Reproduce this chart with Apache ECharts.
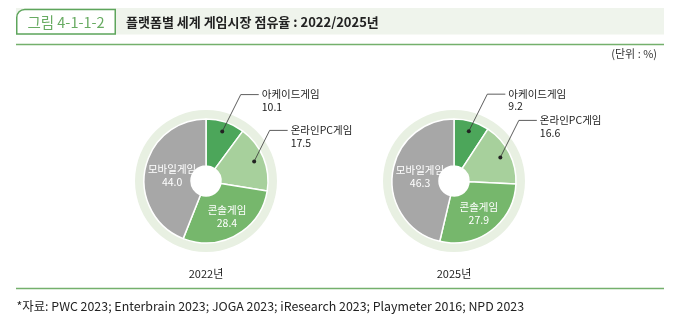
<!DOCTYPE html>
<html><head><meta charset="utf-8">
<script src="https://cdn.jsdelivr.net/npm/echarts@6/dist/echarts.min.js"></script>
<style>html,body{margin:0;padding:0;background:#fff}#c{width:677px;height:324px}</style>
</head><body><div id="c"></div>
<script>
// ---- data ----
const categories = ['아케이드게임', '온라인PC게임', '콘솔게임', '모바일게임'];
const years = ['2022년', '2025년'];
const values2022 = [10.1, 17.5, 28.4, 44.0];
const values2025 = [9.2, 16.6, 27.9, 46.3];
const figureNo = '그림 4-1-1-2';
const titleText = '플랫폼별 세계 게임시장 점유율 : 2022/2025년';
const unitText = '(단위 : %)';
const sourceText = '*자료: PWC 2023; Enterbrain 2023; JOGA 2023; iResearch 2023; Playmeter 2016; NPD 2023';

// ---- style ----
const FONT = '"Noto Sans CJK KR", "Noto Sans", sans-serif';
const colors = ['#4ca65a', '#a7d09c', '#76b76c', '#a7a7a7'];
const ringColor = '#e8f0e2';
const centers = [[206, 181], [454, 181]];
const outsideIdx = [0, 1];
const kneeRise = [[37, 31], [37, 37]];
const insideRadius = {2: 41, 3: 34};
const insideShift = {2: [0, 0], 3: [0, -3.5]};
const guides = {};

const chart = echarts.init(document.getElementById('c'), null, {renderer: 'canvas'});

function makeLayout(si) {
  return function (params) {
    const di = params.dataIndex;
    const c = centers[si];
    if (outsideIdx.indexOf(di) < 0) {
      const rc = params.rect;
      if (!rc) return {};
      const mx = rc.x + rc.width / 2 - c[0], my = rc.y + rc.height / 2 - c[1];
      const l = Math.hypot(mx, my) || 1;
      const rr = insideRadius[di] || l;
      const sh = insideShift[di] || [0, 0];
      return {x: c[0] + mx / l * rr + sh[0], y: c[1] + my / l * rr + sh[1], align: 'center', verticalAlign: 'middle'};
    }
    const pts = params.labelLinePoints;
    if (!pts) return {};
    const p0 = pts[0];
    const vx = p0[0] - c[0], vy = p0[1] - c[1];
    const len = Math.hypot(vx, vy) || 1;
    const dot = [c[0] + vx / len * 52, c[1] + vy / len * 52];
    const rise = kneeRise[si][di];
    const knee = [dot[0] + rise * 0.5, dot[1] - rise];
    const end = [knee[0] + 18, knee[1]];
    guides[si + '_' + di] = [dot, knee, end];
    return {x: end[0] + 3, y: knee[1] - 6.5, align: 'left', verticalAlign: 'top'};
  };
}

function buildData(values) {
  return values.map((v, i) => {
    const outside = outsideIdx.indexOf(i) >= 0;
    return {
      name: categories[i], value: v,
      itemStyle: {color: colors[i]},
      label: outside ? {
        position: 'outside', color: '#222', fontSize: 10.5, lineHeight: 12.5, fontFamily: FONT
      } : {
        position: 'inside', color: '#fff', fontSize: 10.5, lineHeight: 13, fontFamily: FONT
      },
      labelLine: {show: outside, lineStyle: {color: 'rgba(0,0,0,0)', width: 0}}
    };
  });
}

const seriesVals = [values2022, values2025];
const series = [];
seriesVals.forEach((vals, si) => {
  series.push({
    type: 'pie', center: centers[si], radius: [60, 71], silent: true, animation: false,
    label: {show: false}, labelLine: {show: false}, emphasis: {disabled: true}, z: 1,
    data: [{value: 1, itemStyle: {color: ringColor}}]
  });
});
seriesVals.forEach((vals, si) => {
  series.push({
    type: 'pie', center: centers[si], radius: [15, 62], startAngle: 90, clockwise: true,
    animation: false, silent: true, z: 2, emphasis: {disabled: true},
    itemStyle: {borderColor: '#fff', borderWidth: 1.5},
    label: {show: true, formatter: p => p.name + '\n' + p.value.toFixed(1)},
    labelLine: {show: true, length: 10, length2: 10},
    labelLayout: makeLayout(si),
    data: buildData(vals)
  });
});

const graphics = [
  {type: 'rect', shape: {x: 16, y: 8, width: 648, height: 26.5}, style: {fill: '#eff4ec'}, silent: true},
  {type: 'rect', shape: {x: 16.75, y: 9.5, width: 98.5, height: 24.5, r: [8, 0, 0, 0]},
    style: {fill: '#fff', stroke: '#5ea55c', lineWidth: 1.5}, silent: true},
  {type: 'text', x: 66, y: 22, style: {text: figureNo, fill: '#68ab62', font: '14.5px ' + FONT,
    textAlign: 'center', textVerticalAlign: 'middle'}, silent: true},
  {type: 'text', x: 126, y: 22, style: {text: titleText, fill: '#222', font: 'bold 13px ' + FONT,
    textAlign: 'left', textVerticalAlign: 'middle'}, silent: true},
  {type: 'line', shape: {x1: 16, y1: 44.5, x2: 664, y2: 44.5}, style: {stroke: '#74b06c', lineWidth: 1.5}, silent: true},
  {type: 'text', x: 657, y: 54, style: {text: unitText, fill: '#333', font: '11px ' + FONT,
    textAlign: 'right', textVerticalAlign: 'middle'}, silent: true},
  {type: 'line', shape: {x1: 16, y1: 288.5, x2: 664, y2: 288.5}, style: {stroke: '#74b06c', lineWidth: 1.5}, silent: true},
  {type: 'text', x: 16.5, y: 306.5, style: {text: sourceText, fill: '#222', font: '12.4px ' + FONT,
    textAlign: 'left', textVerticalAlign: 'middle'}, silent: true}
];
years.forEach((y, i) => {
  graphics.push({type: 'text', x: centers[i][0], y: 274, style: {text: y, fill: '#222', font: '11px ' + FONT,
    textAlign: 'center', textVerticalAlign: 'middle'}, silent: true});
});

const option = {backgroundColor: '#fff', animation: false, series: series, graphic: graphics};
chart.setOption(option);

const guideEls = [];
Object.keys(guides).forEach(k => {
  const g = guides[k];
  guideEls.push({type: 'polyline', shape: {points: g}, style: {stroke: '#333', lineWidth: 0.8, fill: null}, z: 100, silent: true});
  guideEls.push({type: 'circle', shape: {cx: g[0][0], cy: g[0][1], r: 2}, style: {fill: '#222'}, z: 101, silent: true});
});
option.graphic = graphics.concat(guideEls);
chart.setOption(option, true);
</script>
</body></html>
